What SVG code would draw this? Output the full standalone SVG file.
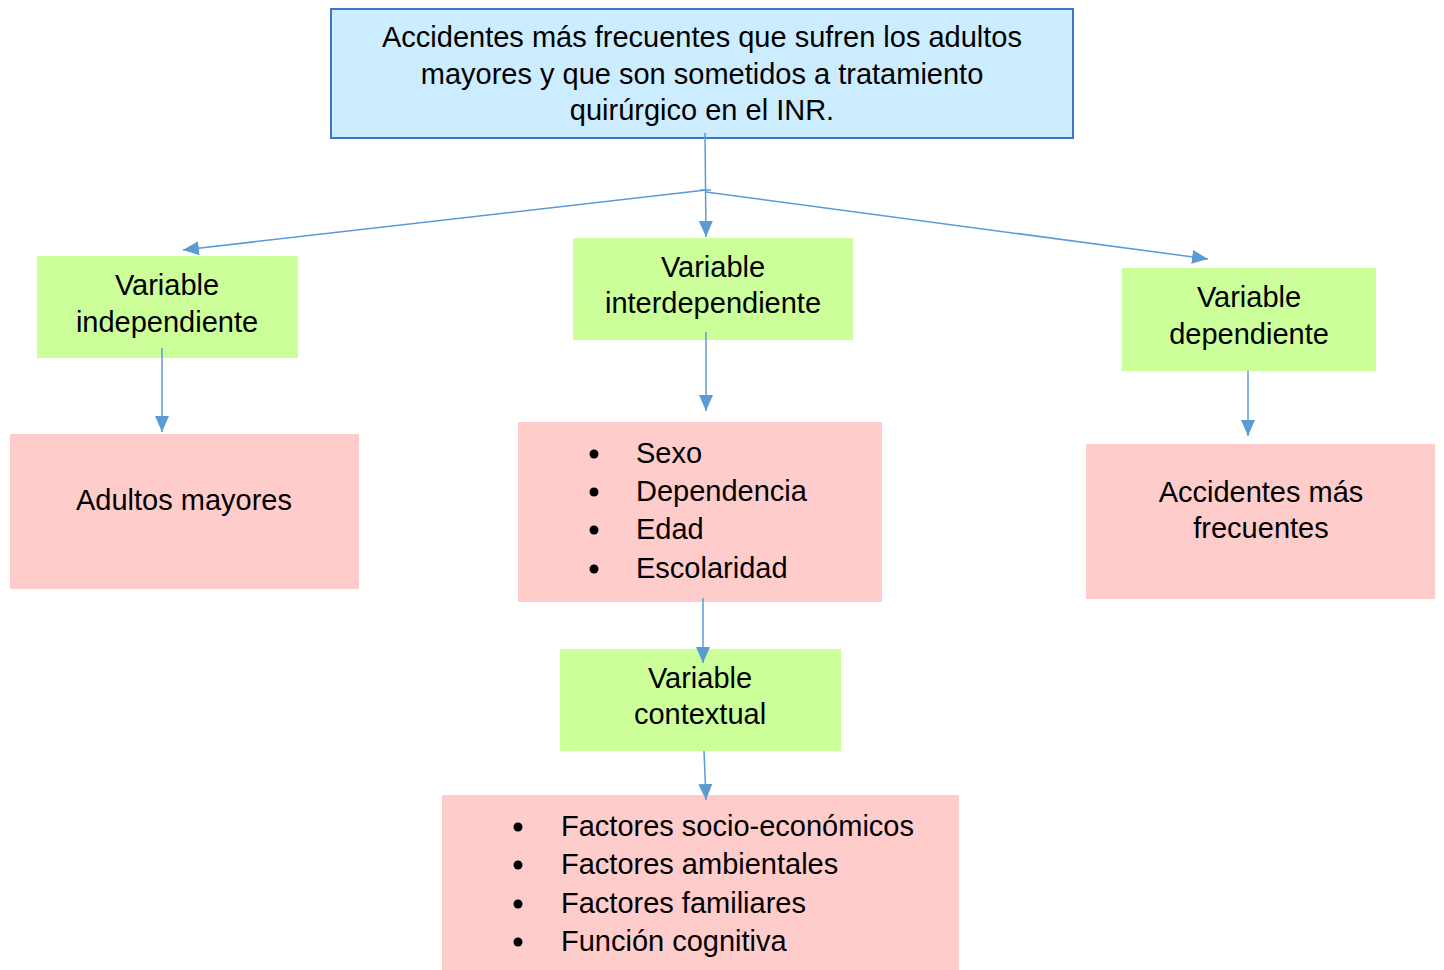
<svg xmlns="http://www.w3.org/2000/svg" width="1444" height="970" viewBox="0 0 1444 970">
<style>
text{font-family:"Liberation Sans",Arial,sans-serif;font-size:29px;fill:#000}
.c{text-anchor:middle}
.g{fill:#CCFF99}
.p{fill:#FFCCCC}
.ln{stroke:#5B9BD5;stroke-width:1.5;fill:none;marker-end:url(#ah)}
.ln0{stroke:#5B9BD5;stroke-width:1.5;fill:none}
</style>
<defs>
<marker id="ah" markerUnits="userSpaceOnUse" markerWidth="18" markerHeight="16" refX="16" refY="7" orient="auto">
<path d="M0,0 L16,7 L0,14 z" fill="#5B9BD5"/>
</marker>
</defs>
<rect width="1444" height="970" fill="#fff"/>
<g id="top">
<rect x="331" y="9" width="742" height="129" fill="#CCECFF" stroke="#4472C4" stroke-width="2"/>
<text class="c" x="702" y="47">Accidentes más frecuentes que sufren los adultos</text>
<text class="c" x="702" y="84">mayores y que son sometidos a tratamiento</text>
<text class="c" x="702" y="120">quirúrgico en el INR.</text>
</g>
<g id="var-indep">
<rect class="g" x="37" y="256" width="261" height="102"/>
<text class="c" x="167" y="295">Variable</text>
<text class="c" x="167" y="332">independiente</text>
</g>
<g id="var-interdep">
<rect class="g" x="573" y="238" width="280" height="102"/>
<text class="c" x="713" y="277">Variable</text>
<text class="c" x="713" y="313">interdependiente</text>
</g>
<g id="var-dep">
<rect class="g" x="1122" y="268" width="254" height="103"/>
<text class="c" x="1249" y="307">Variable</text>
<text class="c" x="1249" y="344">dependiente</text>
</g>
<g id="adultos">
<rect class="p" x="10" y="434" width="349" height="155"/>
<text class="c" x="184" y="510">Adultos mayores</text>
</g>
<g id="lista-interdep">
<rect class="p" x="518" y="422" width="364" height="180"/>
<circle cx="594" cy="454" r="4.5"/>
<circle cx="594" cy="492" r="4.5"/>
<circle cx="594" cy="530" r="4.5"/>
<circle cx="594" cy="569" r="4.5"/>
<text x="636" y="463">Sexo</text>
<text x="636" y="501">Dependencia</text>
<text x="636" y="539">Edad</text>
<text x="636" y="578">Escolaridad</text>
</g>
<g id="accidentes">
<rect class="p" x="1086" y="444" width="349" height="155"/>
<text class="c" x="1261" y="502">Accidentes más</text>
<text class="c" x="1261" y="538">frecuentes</text>
</g>
<g id="var-context">
<rect class="g" x="560" y="649" width="281" height="102"/>
<text class="c" x="700" y="688">Variable</text>
<text class="c" x="700" y="724">contextual</text>
</g>
<g id="lista-context">
<rect class="p" x="442" y="795" width="517" height="175"/>
<circle cx="518" cy="827" r="4.5"/>
<circle cx="518" cy="865" r="4.5"/>
<circle cx="518" cy="904" r="4.5"/>
<circle cx="518" cy="942" r="4.5"/>
<text x="561" y="836">Factores socio-económicos</text>
<text x="561" y="874">Factores ambientales</text>
<text x="561" y="913">Factores familiares</text>
<text x="561" y="951">Función cognitiva</text>
</g>
<g id="connectors">
<line class="ln" x1="705" y1="133" x2="706" y2="237"/>
<line class="ln" x1="706" y1="190" x2="183" y2="250"/>
<line class="ln" x1="706" y1="192" x2="1208" y2="259"/>
<line class="ln0" x1="700" y1="190" x2="711" y2="190"/>
<line class="ln" x1="162" y1="348" x2="162" y2="432"/>
<line class="ln" x1="706" y1="332" x2="706" y2="411"/>
<line class="ln" x1="1248" y1="371" x2="1248" y2="436"/>
<line class="ln" x1="703" y1="598" x2="703" y2="663"/>
<line class="ln" x1="704" y1="751" x2="706" y2="800"/>
</g>
</svg>
